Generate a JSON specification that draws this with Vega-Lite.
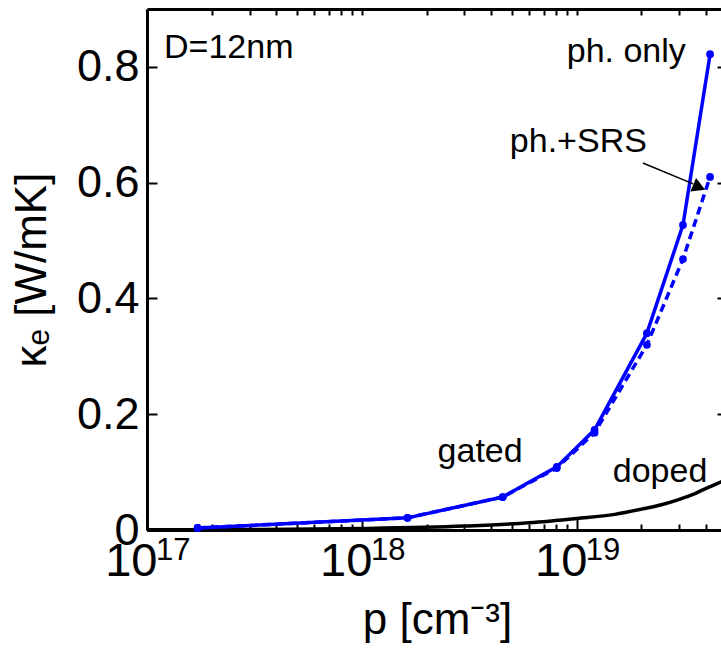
{
  "$schema": "https://vega.github.io/schema/vega-lite/v6.json",
  "autosize": {"type": "none"},
  "padding": {"left": 147, "top": 9, "right": 0, "bottom": 124},
  "width": 580,
  "height": 521,
  "background": "white",
  "config": {
    "view": {"stroke": null},
    "axis": {"domainColor": "black", "domainWidth": 3, "tickColor": "black", "tickWidth": 2, "grid": false, "labelColor": "black", "titleColor": "black", "labelFont": "Liberation Sans", "labelFontSize": 45, "titleFont": "Liberation Sans", "titleFontSize": 44, "titleFontWeight": "normal"},
    "text": {"font": "Liberation Sans", "fontSize": 34, "color": "black"}
  },
  "datasets": {
    "doped": [
      {"p": 1e17, "k": 0.0003}, {"p": 3e17, "k": 0.0008}, {"p": 1e18, "k": 0.0025}, {"p": 3e18, "k": 0.0068},
      {"p": 6e18, "k": 0.0125}, {"p": 1e19, "k": 0.020}, {"p": 1.5e19, "k": 0.027}, {"p": 2e19, "k": 0.036},
      {"p": 2.5e19, "k": 0.044}, {"p": 3e19, "k": 0.053}, {"p": 3.5e19, "k": 0.062}, {"p": 4e19, "k": 0.072},
      {"p": 4.5e19, "k": 0.080}, {"p": 5e19, "k": 0.088}
    ],
    "gated": [
      {"series": "ph. only", "p": 1.72e17, "k": 0.0035},
      {"series": "ph. only", "p": 1.63e18, "k": 0.021},
      {"series": "ph. only", "p": 4.52e18, "k": 0.057},
      {"series": "ph. only", "p": 8.07e18, "k": 0.109},
      {"series": "ph. only", "p": 1.21e19, "k": 0.173},
      {"series": "ph. only", "p": 2.12e19, "k": 0.340},
      {"series": "ph. only", "p": 3.12e19, "k": 0.527},
      {"series": "ph. only", "p": 4.17e19, "k": 0.822},
      {"series": "ph.+SRS", "p": 1.72e17, "k": 0.0035},
      {"series": "ph.+SRS", "p": 1.63e18, "k": 0.021},
      {"series": "ph.+SRS", "p": 4.52e18, "k": 0.057},
      {"series": "ph.+SRS", "p": 8.07e18, "k": 0.107},
      {"series": "ph.+SRS", "p": 1.21e19, "k": 0.168},
      {"series": "ph.+SRS", "p": 2.12e19, "k": 0.320},
      {"series": "ph.+SRS", "p": 3.12e19, "k": 0.468},
      {"series": "ph.+SRS", "p": 4.17e19, "k": 0.610}
    ],
    "notes": [
      {"label": "D=12nm", "p": 1.2e17, "k": 0.815},
      {"label": "ph. only", "p": 8.98e18, "k": 0.808},
      {"label": "ph.+SRS", "p": 4.88e18, "k": 0.653},
      {"label": "gated", "p": 2.25e18, "k": 0.1174},
      {"label": "doped", "p": 1.47e19, "k": 0.083}
    ],
    "exps": [
      {"p": 1e17, "e": "17"},
      {"p": 1e18, "e": "18"},
      {"p": 1e19, "e": "19"}
    ],
    "arrow": [
      {"p": 2.03e19, "k": 0.634},
      {"p": 3.48e19, "k": 0.598}
    ],
    "arrowhead": [
      {"p": 3.71e19, "k": 0.592}
    ]
  },
  "resolve": {"axis": {"x": "independent", "y": "independent"}},
  "layer": [
    {
      "data": {"name": "doped"},
      "mark": {"type": "line", "color": "black", "strokeWidth": 3.5, "interpolate": "monotone"},
      "encoding": {
        "x": {"field": "p", "type": "quantitative",
          "scale": {"type": "log", "domain": [1e17, 5e19], "nice": false},
          "axis": {"orient": "bottom", "values": [1e17, 1e18, 1e19], "tickSize": -12,
            "labelExpr": "'10'", "labelAlign": "right", "labelOffset": 10, "labelFontSize": 47,
            "labelPadding": 57, "labelBaseline": "alphabetic", "title": "p [cm⁻³]", "titlePadding": 14}},
        "y": {"field": "k", "type": "quantitative",
          "scale": {"domain": [0, 0.9], "nice": false, "zero": false},
          "axis": {"orient": "left", "values": [0, 0.2, 0.4, 0.6, 0.8], "format": ".1~f", "tickSize": -10, "labelPadding": 18,
            "title": "κₑ [W/mK]", "titlePadding": 22}}
      }
    },
    {
      "data": {"name": "gated"},
      "transform": [{"filter": "datum.series == 'ph. only'"}],
      "mark": {"type": "line", "color": "#0000ff", "strokeWidth": 3.5},
      "encoding": {
        "x": {"field": "p", "type": "quantitative",
          "axis": {"orient": "top", "labels": false, "title": null, "tickSize": -6,
            "values": [1e17, 2e17, 3e17, 4e17, 5e17, 6e17, 7e17, 8e17, 9e17, 1e18, 2e18, 3e18, 4e18, 5e18, 6e18, 7e18, 8e18, 9e18, 1e19, 2e19, 3e19, 4e19, 5e19]}},
        "y": {"field": "k", "type": "quantitative",
          "axis": {"orient": "right", "labels": false, "title": null, "tickSize": -10, "values": [0, 0.2, 0.4, 0.6, 0.8]}}
      }
    },
    {
      "data": {"name": "gated"},
      "transform": [{"filter": "datum.series == 'ph.+SRS'"}],
      "mark": {"type": "line", "color": "#0000ff", "strokeWidth": 3.5, "strokeDash": [8, 5]},
      "encoding": {
        "x": {"field": "p", "type": "quantitative",
          "axis": {"orient": "bottom", "labels": false, "title": null, "tickSize": -6, "domain": false,
            "values": [2e17, 3e17, 4e17, 5e17, 6e17, 7e17, 8e17, 9e17, 2e18, 3e18, 4e18, 5e18, 6e18, 7e18, 8e18, 9e18, 2e19, 3e19, 4e19, 5e19]}},
        "y": {"field": "k", "type": "quantitative", "axis": null}
      }
    },
    {
      "data": {"name": "gated"},
      "mark": {"type": "point", "filled": true, "color": "#0000ff", "size": 60, "opacity": 1},
      "encoding": {
        "x": {"field": "p", "type": "quantitative", "axis": null},
        "y": {"field": "k", "type": "quantitative", "axis": null}
      }
    },
    {
      "data": {"name": "notes"},
      "mark": {"type": "text", "align": "left", "baseline": "alphabetic"},
      "encoding": {
        "x": {"field": "p", "type": "quantitative", "axis": null},
        "y": {"field": "k", "type": "quantitative", "axis": null},
        "text": {"field": "label"}
      }
    },
    {
      "data": {"name": "exps"},
      "mark": {"type": "text", "align": "left", "baseline": "alphabetic", "fontSize": 31, "dx": 9, "dy": 30},
      "encoding": {
        "x": {"field": "p", "type": "quantitative", "axis": null},
        "y": {"datum": 0, "type": "quantitative", "axis": null},
        "text": {"field": "e"}
      }
    },
    {
      "data": {"name": "arrow"},
      "mark": {"type": "line", "color": "black", "strokeWidth": 1.5},
      "encoding": {
        "x": {"field": "p", "type": "quantitative", "axis": null},
        "y": {"field": "k", "type": "quantitative", "axis": null}
      }
    },
    {
      "data": {"name": "arrowhead"},
      "mark": {"type": "point", "shape": "triangle-right", "filled": true, "color": "black", "size": 220, "angle": 23, "opacity": 1},
      "encoding": {
        "x": {"field": "p", "type": "quantitative", "axis": null},
        "y": {"field": "k", "type": "quantitative", "axis": null}
      }
    }
  ]
}
